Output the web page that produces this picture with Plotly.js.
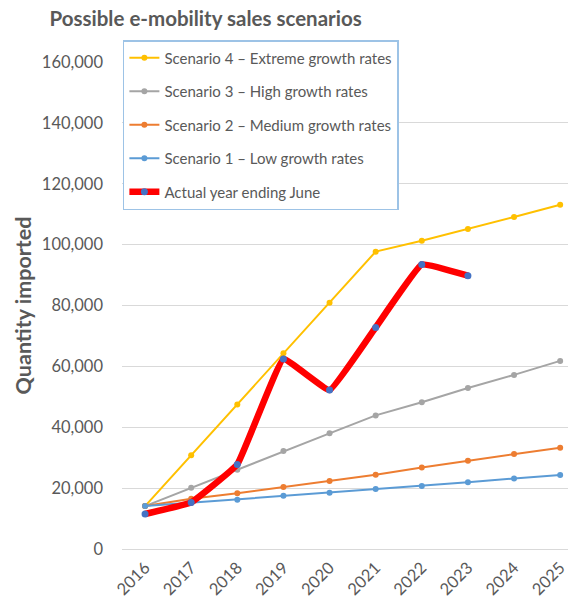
<!DOCTYPE html>
<html>
<head>
<meta charset="utf-8">
<script src="https://cdn.plot.ly/plotly-3.0.1.min.js"></script>
<style>html,body{margin:0;padding:0;background:#fff;}#chart{width:568px;height:602px;}</style>
</head>
<body>
<div id="chart"></div>
<script>
const years = ["2016","2017","2018","2019","2020","2021","2022","2023","2024","2025"];
const scenario4 = [14100, 30800, 47500, 64300, 80900, 97700, 101300, 105100, 109100, 113100];
const scenario3 = [14100, 20100, 26000, 32200, 38000, 43900, 48200, 52900, 57200, 61800];
const scenario2 = [14100, 16500, 18300, 20400, 22300, 24400, 26800, 29000, 31200, 33300];
const scenario1 = [14100, 15200, 16200, 17500, 18500, 19700, 20700, 21900, 23200, 24300];
const actualYears = ["2016","2017","2018","2019","2020","2021","2022","2023"];
const actual = [11500, 15300, 27800, 62400, 52200, 72800, 93500, 89800];
const names = ["Scenario 4 \u2013 Extreme growth rates","Scenario 3 \u2013 High growth rates","Scenario 2 \u2013 Medium growth rates","Scenario 1 \u2013 Low growth rates","Actual year ending June"];

const font = "Lato, 'Open Sans', sans-serif";
function sc(y, color, name, g) {
  return {x: years, y: y, type: 'scatter', mode: 'lines+markers', name: name, legendgroup: g,
    line: {color: color, width: 2}, marker: {color: color, size: 6}};
}
const traces = [
  sc(scenario4, '#FFC000', names[0], 'a'),
  sc(scenario3, '#A5A5A5', names[1], 'b'),
  sc(scenario2, '#ED7D31', names[2], 'c'),
  sc(scenario1, '#5B9BD5', names[3], 'd'),
  {x: actualYears, y: actual, type: 'scatter', mode: 'lines+markers', name: names[4], legendgroup: 'e',
    line: {color: '#FF0000', width: 6.5, shape: 'spline', smoothing: 0.25}, marker: {color: '#4472C4', size: 7}}
];
const layout = {
  width: 568, height: 602,
  margin: {l: 122, r: 0, t: 62, b: 53},
  paper_bgcolor: '#fff', plot_bgcolor: '#fff',
  font: {family: font, color: '#595959'},
  title: {text: '<b>Possible e-mobility sales scenarios</b>', x: 0.362, xanchor: 'center', y: 0.968, yanchor: 'middle', yref: 'container',
    font: {family: font, size: 20.5, color: '#595959'}},
  xaxis: {type: 'category', categoryorder: 'array', categoryarray: years, range: [-0.5, 9.17],
    tickangle: -45, showgrid: false, zeroline: false, showline: false, ticks: '', ticklabelstandoff: 5,
    tickfont: {family: font, size: 16.5, color: '#595959'}},
  yaxis: {range: [0, 160000], dtick: 20000, tickformat: ',d', showgrid: true, gridcolor: '#D9D9D9', gridwidth: 1,
    zeroline: true, zerolinecolor: '#D9D9D9', zerolinewidth: 1, showline: false, ticks: '', ticklabelstandoff: 18,
    tickfont: {family: font, size: 16.5, color: '#595959'},
    title: {text: '<b>Quantity imported</b>', standoff: 4, font: {family: font, size: 21.5, color: '#595959'}}},
  showlegend: true,
  legend: {x: 0.002, xanchor: 'left', y: 1.045, yanchor: 'top', bgcolor: '#fff', bordercolor: '#9DC3E6', borderwidth: 1.5,
    font: {family: font, size: 15, color: '#595959'}, tracegroupgap: 11, itemwidth: 30, traceorder: 'grouped'}
};
Plotly.newPlot('chart', traces, layout, {staticPlot: true, displayModeBar: false});
</script>
</body>
</html>
